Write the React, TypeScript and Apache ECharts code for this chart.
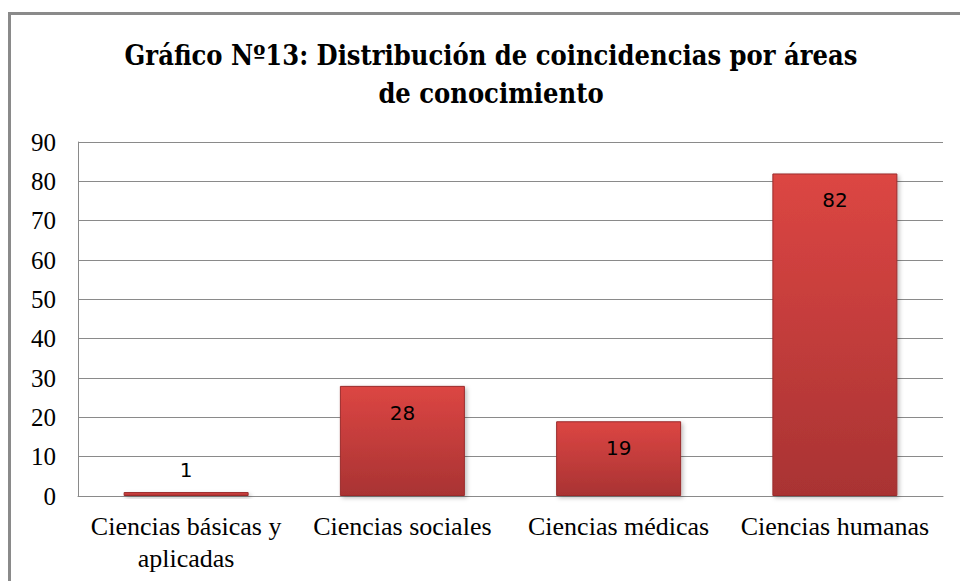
import React, { useEffect, useRef } from "react";
import * as echarts from "echarts";

const categories = ["Ciencias básicas y\naplicadas", "Ciencias sociales", "Ciencias médicas", "Ciencias humanas"];
const values = [1, 28, 19, 82];
const titleLines = ["Gráfico Nº13: Distribución de coincidencias por áreas", "de conocimiento"];

export default function App() {
  const ref = useRef<HTMLDivElement>(null);
  useEffect(() => {
    if (!ref.current) return;
    const chart = echarts.init(ref.current, null, { renderer: "svg" });
    chart.setOption({
      animation: false,
      backgroundColor: "#ffffff",
      title: {
        text: titleLines.join("\n"),
        left: 486,
        textAlign: "center",
        top: 31,
        textStyle: {
          fontFamily: "'DejaVu Serif Condensed', 'Liberation Serif', serif",
          fontWeight: "bold",
          fontSize: 27,
          lineHeight: 38,
          color: "#000",
        },
      },
      graphic: [
        {
          type: "rect",
          shape: { x: 9.5, y: 13.5, width: 980, height: 600 },
          style: { fill: "none", stroke: "#8a8a8a", lineWidth: 3 },
          silent: true,
        },
      ],
      grid: { left: 78, right: 17, top: 142, bottom: 85 },
      xAxis: {
        type: "category",
        data: categories,
        axisLine: { show: true, lineStyle: { color: "#8a8a8a", width: 1 } },
        axisTick: { show: false },
        axisLabel: {
          fontFamily: "'Liberation Serif', serif",
          fontSize: 26,
          color: "#000",
          lineHeight: 32,
          margin: 14,
          interval: 0,
        },
      },
      yAxis: {
        type: "value",
        min: 0,
        max: 90,
        interval: 10,
        axisLine: { show: true, lineStyle: { color: "#8a8a8a", width: 1 } },
        axisTick: { show: false },
        splitLine: { show: true, lineStyle: { color: "#8a8a8a", width: 1 } },
        axisLabel: {
          fontFamily: "'Liberation Serif', serif",
          fontSize: 25,
          color: "#000",
          margin: 22,
        },
      },
      series: [
        {
          type: "bar",
          data: values.map((v, i) =>
            i === 0 ? { value: v, label: { position: "top", distance: 12 } } : v
          ),
          barWidth: 125,
          itemStyle: {
            color: new echarts.graphic.LinearGradient(0, 0, 0, 1, [
              { offset: 0, color: "#dc4643" },
              { offset: 1, color: "#a93333" },
            ]),
            borderColor: "#9a2c2c",
            borderWidth: 1,
            shadowColor: "rgba(0,0,0,0.25)",
            shadowBlur: 4,
            shadowOffsetX: 2,
            shadowOffsetY: 2,
          },
          label: {
            show: true,
            position: "insideTop",
            distance: 17,
            fontFamily: "'DejaVu Sans', sans-serif",
            fontSize: 20,
            color: "#000",
          },
        },
      ],
    });
    return () => chart.dispose();
  }, []);
  return <div ref={ref} style={{ position: "absolute", left: 0, top: 0, width: 960, height: 581 }} />;
}
